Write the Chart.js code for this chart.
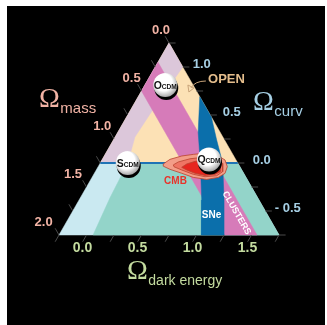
<!DOCTYPE html>
<html>
<head>
<meta charset="utf-8">
<script src="https://cdn.jsdelivr.net/npm/chart.js@4.4.1/dist/chart.umd.min.js"></script>
<style>
  html, body { margin: 0; padding: 0; background: #fff; }
  #frame { position: absolute; left: 7px; top: 6px; width: 318px; height: 319px; background: #000; }
  canvas { display: block; }
</style>
</head>
<body>
<div id="frame"><canvas id="triangle" width="318" height="319"></canvas></div>
<script>
// Cosmic triangle. Every point is [Omega_mass, Omega_darkEnergy]; Omega_curv = 1 - mass - darkEnergy.
const massTicks = [0.0, 0.5, 1.0, 1.5, 2.0];
const darkEnergyTicks = [0.0, 0.5, 1.0, 1.5];
const curvTicks = [1.0, 0.5, 0.0, -0.5];

// regions of the triangle
const openRegion   = [[0, -0.25], [1.25, -0.25], [0, 1]];
const decelRegion  = [[0, -0.25], [0, 0], [0.5, -0.05], [0.8, -0.07], [1.0, 0], [1.25, -0.25]];
const closedRegion = [[1.25, -0.25], [2, -0.25], [0, 1.75], [0, 1]];
const expandRegion = [[1.0, 0], [1.34, 0.02], [1.69, 0.06], [0, 1.75], [0, 1]];
const flatLine     = [[1.25, -0.25], [0, 1]];

// observational constraints
const clusters   = [[0.2, -0.25], [0.5, -0.25], [0.5, 1.25], [0.2, 1.55]];
const supernovae = [[0, 0.31], [0.2, 0.48], [0.34, 0.66], [0.52, 0.865], [0.705, 1.045],
                    [0.496, 1.254], [0.317, 1.068], [0.137, 0.863], [0.072, 0.689], [0, 0.52]];
const cmbOuter  = [[0.682, 0.328], [0.597, 0.365], [0.473, 0.454], [0.359, 0.551], [0.263, 0.636],
                   [0.15, 0.767], [0.10, 0.868], [0.114, 0.924], [0.17, 0.938], [0.252, 0.898],
                   [0.368, 0.803], [0.479, 0.671], [0.563, 0.544], [0.649, 0.417], [0.692, 0.342]];
const cmbMiddle = [[0.596, 0.424], [0.535, 0.454], [0.412, 0.544], [0.283, 0.657], [0.167, 0.784],
                   [0.139, 0.865], [0.182, 0.908], [0.258, 0.875], [0.369, 0.774], [0.463, 0.655],
                   [0.546, 0.527], [0.599, 0.44]];
const cmbInner  = [[0.532, 0.513], [0.469, 0.541], [0.38, 0.603], [0.282, 0.687], [0.18, 0.797],
                   [0.172, 0.849], [0.207, 0.884], [0.266, 0.852], [0.362, 0.767], [0.442, 0.665],
                   [0.5, 0.572]];

// cosmological models
const modelNames = ['O', 'S', 'Q'];
const modelPoints = [[0.253, -0.065], [1.0, 0.0], [0.243, 0.72]];

const toXY = ([m, l]) => ({ x: l - m, y: 1 - m - l });
const ring = pts => [...pts, pts[0]].map(toXY);

function area(pts, color, edge) {
  return {
    data: ring(pts), backgroundColor: color, borderColor: edge || color,
    borderWidth: edge ? 0.8 : 0.5, fill: 'shape', pointRadius: 0, tension: 0
  };
}

const layers = [
  area(openRegion, '#fce1b5'),
  area(decelRegion, '#dcc7da'),
  area(closedRegion, '#cae9f1'),
  area(expandRegion, '#93d4c9'),
  area(clusters, '#d67bb9'),
  area(supernovae, '#0b6fab'),
  { data: flatLine.map(toXY), borderColor: '#1f73b5', borderWidth: 2, fill: false, pointRadius: 0 },
  area(cmbOuter, '#f39d88', '#b9432f'),
  area(cmbMiddle, '#ef7564', '#b9432f'),
  area(cmbInner, '#e6261f', '#b9432f'),
];
layers.forEach((d, i) => { d.order = layers.length - i; });

const SANS = '"Liberation Sans", Arial, Helvetica, sans-serif';
const SERIF = '"Liberation Serif", "Times New Roman", serif';

const decorations = {
  id: 'decorations',
  afterDatasetsDraw(chart) {
    const { ctx } = chart;
    const sx = chart.scales.x, sy = chart.scales.y;
    const P = (m, l) => [sx.getPixelForValue(l - m), sy.getPixelForValue(1 - m - l)];

    ctx.save();
    // tick marks outside the three edges
    ctx.strokeStyle = '#4a4a4a';
    ctx.lineWidth = 1;
    const seg = (a, b) => { ctx.beginPath(); ctx.moveTo(a[0], a[1]); ctx.lineTo(b[0], b[1]); ctx.stroke(); };
    for (let v = 0; v <= 2.001; v += 0.25) seg(P(v, -0.25), P(v, -0.32));
    for (let v = -0.25; v <= 1.751; v += 0.25) seg(P(1.75 - v, v), P(1.82 - v, v));
    for (let k = -0.75; k <= 1.251; k += 0.25) seg(P(0, 1 - k), P(-0.06, 1.06 - k));

    // tick labels
    ctx.font = 'bold 13px ' + SANS;
    ctx.textBaseline = 'middle';
    ctx.textAlign = 'center';
    ctx.fillStyle = '#f2b3a5';
    massTicks.forEach(v => {
      const [x, y] = P(v, -0.25);
      ctx.fillText(v.toFixed(1), x - 8 - 3.7 * v, y - 12.5);
    });
    ctx.fillStyle = '#a6cfe4';
    ctx.textAlign = 'right';
    curvTicks.forEach(k => {
      const [x, y] = P(0, 1 - k);
      const txt = k < 0 ? '- ' + Math.abs(k).toFixed(1) : k.toFixed(1);
      ctx.fillText(txt, x + 28 + 5 * (1 - k), y - 2.5);
    });
    ctx.font = 'bold 14px ' + SANS;
    ctx.fillStyle = '#c3db9f';
    ctx.textAlign = 'center';
    darkEnergyTicks.forEach(v => {
      const [x, y] = P(1.75 - v, v);
      ctx.fillText(v.toFixed(1), x - 4, y + 13.5);
    });

    // axis titles
    ctx.textAlign = 'left';
    ctx.textBaseline = 'alphabetic';
    const title = (sym, sub, x, y, color, subSize) => {
      ctx.fillStyle = color;
      ctx.font = '28px ' + SERIF;
      ctx.fillText(sym, x, y);
      const w = ctx.measureText(sym).width;
      ctx.font = subSize + 'px ' + SANS;
      ctx.fillText(sub, x + w + 0.5, y + 6);
    };
    title('\u03A9', 'mass', 32, 101, '#f2b3a5', 15);
    title('\u03A9', 'curv', 246, 104, '#a6cfe4', 15);
    title('\u03A9', 'dark energy', 120, 273, '#c3db9f', 14);

    // region and constraint labels
    ctx.textAlign = 'center';
    ctx.textBaseline = 'middle';
    ctx.font = 'bold 13px ' + SANS;
    ctx.fillStyle = '#e4bd8c';
    ctx.fillText('OPEN', 219.5, 73);
    const [ax, ay] = P(0.06, 0.19);
    ctx.strokeStyle = '#c9a47a';
    ctx.lineWidth = 1;
    ctx.beginPath();
    ctx.moveTo(ax + 16, ay - 10);
    ctx.quadraticCurveTo(ax + 5, ay - 10, ax + 1, ay - 3);
    ctx.stroke();
    ctx.beginPath();
    ctx.moveTo(ax - 1, ay + 1);
    ctx.lineTo(ax - 2, ay - 6);
    ctx.lineTo(ax + 4, ay - 3);
    ctx.closePath();
    ctx.stroke();

    ctx.font = 'bold 10px ' + SANS;
    ctx.fillStyle = '#e8332a';
    ctx.fillText('CMB', 168.5, 175.5);
    ctx.fillStyle = '#ffffff';
    ctx.fillText('SNe', 204.5, 209);
    ctx.save();
    ctx.translate(229.5, 207);
    ctx.rotate(Math.PI / 3);
    ctx.font = 'bold 9px ' + SANS;
    ctx.fillText('CLUSTERS', 0, 0);
    ctx.restore();

    // model markers
    modelPoints.forEach((pt, i) => {
      const [cx, cy] = P(pt[0], pt[1]);
      const r = 12;
      ctx.fillStyle = '#000';
      ctx.beginPath(); ctx.arc(cx + 1, cy + 3, r, 0, Math.PI * 2); ctx.fill();
      const g = ctx.createRadialGradient(cx - 3, cy - 4, 0, cx - 1, cy - 2, r + 2);
      g.addColorStop(0, '#ffffff');
      g.addColorStop(0.62, '#ffffff');
      g.addColorStop(1, '#a8a8a8');
      ctx.fillStyle = g;
      ctx.beginPath(); ctx.arc(cx, cy, r, 0, Math.PI * 2); ctx.fill();
      ctx.fillStyle = '#111';
      ctx.textAlign = 'left';
      ctx.textBaseline = 'alphabetic';
      ctx.font = 'bold 10.5px ' + SANS;
      const w1 = ctx.measureText(modelNames[i]).width;
      ctx.font = 'bold 6.6px ' + SANS;
      const w2 = ctx.measureText('CDM').width;
      const x0 = cx - (w1 + w2) / 2;
      ctx.font = 'bold 10.5px ' + SANS;
      ctx.fillText(modelNames[i], x0, cy + 3.8);
      ctx.font = 'bold 6.6px ' + SANS;
      ctx.fillText('CDM', x0 + w1, cy + 3.8);
    });
    ctx.restore();
  }
};

new Chart(document.getElementById('triangle'), {
  type: 'line',
  data: { datasets: layers },
  options: {
    responsive: false,
    animation: false,
    events: [],
    layout: { padding: 0 },
    plugins: { legend: { display: false }, tooltip: { enabled: false }, title: { display: false } },
    scales: {
      x: { type: 'linear', display: false, min: -175.75 / 55, max: (318 - 175.75) / 55 },
      y: { type: 'linear', display: false, min: (157 - 319) / 96, max: 157 / 96 }
    }
  },
  plugins: [decorations]
});
</script>
</body>
</html>
